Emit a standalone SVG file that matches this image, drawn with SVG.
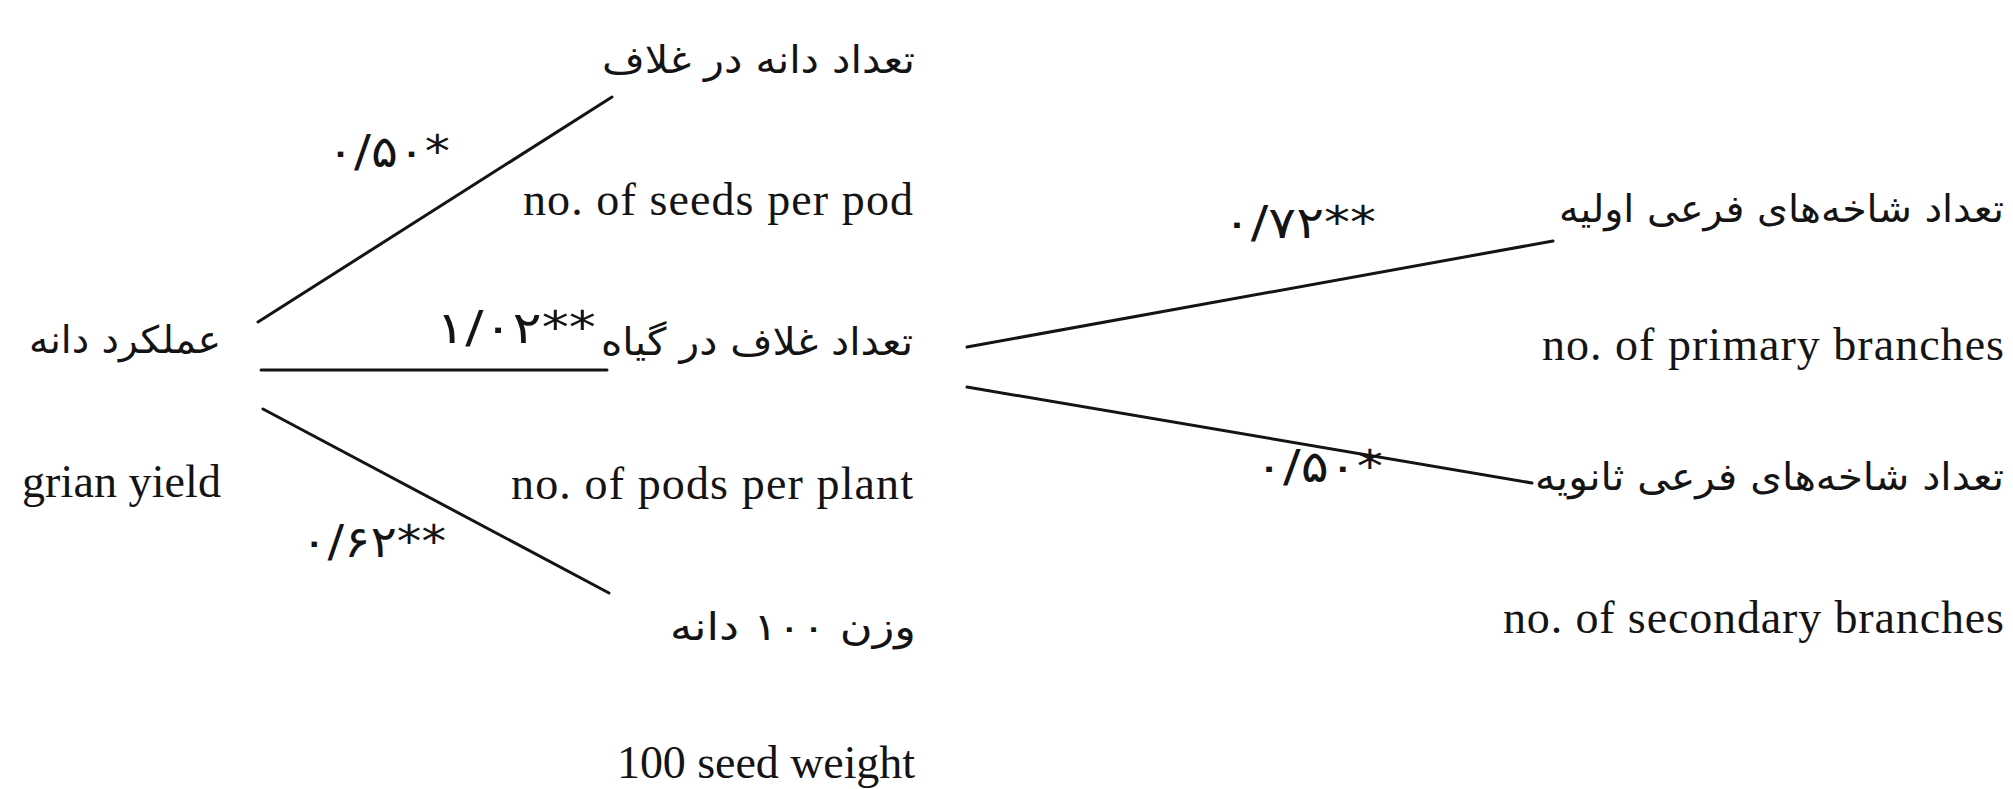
<svg xmlns="http://www.w3.org/2000/svg" width="2013" height="789" viewBox="0 0 2013 789">
<style>
.en{font-family:"Liberation Serif","Times New Roman",serif;font-size:46px;fill:#141414}
.fa{font-family:"DejaVu Sans","Noto Sans",sans-serif;font-size:38px;fill:#141414}
.lb{font-family:"DejaVu Sans","Liberation Serif",sans-serif;font-size:44px;fill:#141414}
.ln{stroke:#141414;stroke-width:3;fill:none;stroke-linecap:round}
</style>
<rect width="2013" height="789" fill="#ffffff"/>
<g id="connectors">
<line class="ln" x1="258" y1="322" x2="612" y2="97"/>
<line class="ln" x1="261" y1="370" x2="607" y2="370"/>
<line class="ln" x1="263" y1="409" x2="609" y2="593"/>
<line class="ln" x1="967" y1="347" x2="1553" y2="241"/>
<line class="ln" x1="967" y1="387" x2="1532" y2="483"/>
<text class="lb" x="327" y="167" direction="ltr" textLength="123" lengthAdjust="spacingAndGlyphs">۰/۵۰*</text>
<text class="lb" x="436" y="343" direction="ltr" textLength="160" lengthAdjust="spacingAndGlyphs">۱/۰۲**</text>
<text class="lb" x="301" y="557" direction="ltr" textLength="145" lengthAdjust="spacingAndGlyphs">۰/۶۲**</text>
<text class="lb" x="1223" y="238" direction="ltr" textLength="153" lengthAdjust="spacingAndGlyphs">۰/۷۲**</text>
<text class="lb" x="1255" y="482" direction="ltr" textLength="128" lengthAdjust="spacingAndGlyphs">۰/۵۰*</text>
</g>
<g id="node-yield">
<text class="fa" x="221" y="353" text-anchor="end" textLength="192" lengthAdjust="spacingAndGlyphs">عملکرد دانه</text>
<text class="en" x="221" y="497" text-anchor="end" textLength="199" lengthAdjust="spacing">grian yield</text>
</g>
<g id="node-seeds-per-pod">
<text class="fa" x="915" y="73" text-anchor="end" textLength="313" lengthAdjust="spacingAndGlyphs">تعداد دانه در غلاف</text>
<text class="en" x="913" y="215" text-anchor="end" textLength="390" lengthAdjust="spacing">no. of seeds per pod</text>
</g>
<g id="node-pods-per-plant">
<text class="fa" x="913" y="355" text-anchor="end" textLength="312" lengthAdjust="spacingAndGlyphs">تعداد غلاف در گیاه</text>
<text class="en" x="913" y="499" text-anchor="end" textLength="402" lengthAdjust="spacing">no. of pods per plant</text>
</g>
<g id="node-seed-weight">
<text class="fa" x="916" y="640" text-anchor="end" textLength="246" lengthAdjust="spacingAndGlyphs">وزن ۱۰۰ دانه</text>
<text class="en" x="915" y="778" text-anchor="end" textLength="298" lengthAdjust="spacing">100 seed weight</text>
</g>
<g id="node-primary">
<text class="fa" x="2004" y="222" text-anchor="end" textLength="445" lengthAdjust="spacingAndGlyphs">تعداد شاخه‌های فرعی اولیه</text>
<text class="en" x="2004" y="360" text-anchor="end" textLength="462" lengthAdjust="spacing">no. of primary branches</text>
</g>
<g id="node-secondary">
<text class="fa" x="2004" y="490" text-anchor="end" textLength="469" lengthAdjust="spacingAndGlyphs">تعداد شاخه‌های فرعی ثانویه</text>
<text class="en" x="2004" y="633" text-anchor="end" textLength="501" lengthAdjust="spacing">no. of secondary branches</text>
</g>
</svg>
